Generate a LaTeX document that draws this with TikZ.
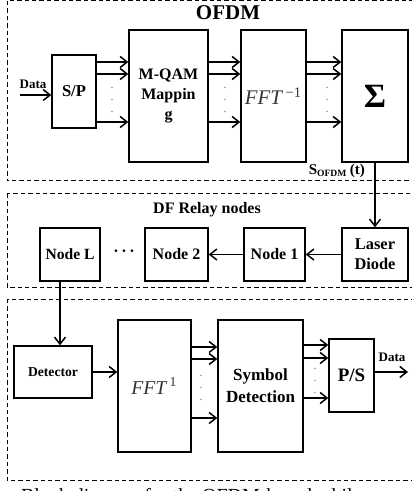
\documentclass[tikz,border=0pt]{standalone}
\usepackage{fontspec}
\setmainfont{Liberation Serif}
\usetikzlibrary{arrows.meta}
\newcommand{\fsz}[2]{\fontsize{#1}{#2}\selectfont}
\newcommand{\vdotsgap}{\vbox{\baselineskip=6pt\lineskiplimit=0pt\hbox{.}\hbox{.}\hbox{.}}}

\begin{document}
\begin{tikzpicture}[
    x=0.5pt, y=-0.5pt,
    every node/.style={font=\bfseries},
    blk/.style={draw, line width=0.7pt, inner sep=1pt, align=center},
    sig/.style={-{Straight Barb[length=3.5pt,width=5.5pt]}, line width=0.75pt},
    zone/.style={draw, dash pattern=on 2.2pt off 1.5pt, line width=0.5pt},
    dotcol/.style={inner sep=0pt, text=black!55, font=\fsz{6}{8}\mdseries}
]
\useasboundingbox (0,0) rectangle (411,491);

% dashed zones
\draw[zone] (7,1) rectangle (430,181);
\draw[zone] (7,194) rectangle (430,287);
\draw[zone] (7,299) rectangle (430,480);

% OFDM transmitter
\node[font=\fsz{10.5}{12}\bfseries] (ofdm) at (228,13) {OFDM};
\node[blk, minimum width=22pt, minimum height=36.5pt, font=\fsz{8.3}{10}\bfseries] (sp) at (74,91.5) {S/P};
\node[blk, minimum width=39.5pt, minimum height=66pt, font=\fsz{8}{10}\bfseries] (qam) at (168.5,96) {M-QAM\\Mappin\\g};
\node[blk, minimum width=32.5pt, minimum height=66pt, font=\fsz{10.4}{12}\mdseries, text=black!80] (ifft) at (273.5,96) {\textit{FFT}\textsuperscript{\,−1}};
\node[blk, minimum width=33pt, minimum height=66pt, font=\fsz{17}{20}\bfseries] (sum) at (375,96) {Σ};

\node[font=\fsz{6.5}{8}\bfseries] (datalbl) at (33,84) {Data};
\coordinate (datain) at (20,95);
\draw[sig] (datain) -- (sp.west |- datain);

\draw[sig] (sp.east |- 0,62) -- (qam.west |- 0,62);
\draw[sig] (sp.east |- 0,74) -- (qam.west |- 0,74);
\draw[sig] (sp.east |- 0,122) -- (qam.west |- 0,122);
\draw[sig] (qam.east |- 0,62) -- (ifft.west |- 0,62);
\draw[sig] (qam.east |- 0,74) -- (ifft.west |- 0,74);
\draw[sig] (qam.east |- 0,122) -- (ifft.west |- 0,122);
\draw[sig] (ifft.east |- 0,62) -- (sum.west |- 0,62);
\draw[sig] (ifft.east |- 0,74) -- (sum.west |- 0,74);
\draw[sig] (ifft.east |- 0,122) -- (sum.west |- 0,122);

\node[dotcol] (dots1) at (112,100) {\vdotsgap};
\node[dotcol] (dots2) at (225,100) {\vdotsgap};
\node[dotcol] (dots3) at (327,100) {\vdotsgap};

\node[anchor=east, font=\fsz{7.5}{8}\bfseries] (slbl) at (372,171) {S\textsubscript{\fsz{4.8}{5}OFDM}\,(t)};

% relay chain
\node[font=\fsz{8}{10}\bfseries] (relaylbl) at (207,210) {DF Relay nodes};
\node[blk, minimum width=33pt, minimum height=26.5pt, font=\fsz{8.2}{10}\bfseries] (laser) at (375,254.5) {Laser\\Diode};
\node[blk, minimum width=30.5pt, minimum height=26.5pt, font=\fsz{8}{10}\bfseries] (n1) at (274.5,254.5) {Node 1};
\node[blk, minimum width=31.5pt, minimum height=26.5pt, font=\fsz{8}{10}\bfseries] (n2) at (176.5,254.5) {Node 2};
\node[blk, minimum width=30pt, minimum height=26.5pt, font=\fsz{7.8}{10}\bfseries] (nL) at (70,254.5) {Node L};
\node[font=\fsz{8}{10}\bfseries] (ldots) at (124,253) {·\,·\,·};

\draw[sig] (sum) -- (laser);
\draw[sig] (laser) -- (n1);
\draw[sig] (n1) -- (n2);

% receiver
\node[blk, minimum width=39pt, minimum height=26pt, font=\fsz{6.8}{8}\bfseries] (det) at (53,372) {Detector};
\node[blk, minimum width=36.5pt, minimum height=66pt, font=\fsz{9.8}{12}\mdseries, text=black!80] (fft) at (154.5,386) {\textit{FFT}\textsuperscript{\,1}};
\node[blk, minimum width=42.5pt, minimum height=66pt, font=\fsz{8.5}{11}\bfseries] (sd) at (260.5,386) {Symbol\\Detection};
\node[blk, minimum width=22.5pt, minimum height=36.5pt, font=\fsz{9.5}{11}\bfseries] (ps) at (351.5,375.5) {P/S};

\draw[sig] (nL.south -| 60,0) -- (det.north -| 60,0);
\draw[sig] (det) -- (fft.west |- det);
\draw[sig] (fft.east |- 0,347) -- (sd.west |- 0,347);
\draw[sig] (fft.east |- 0,359) -- (sd.west |- 0,359);
\draw[sig] (fft.east |- 0,418) -- (sd.west |- 0,418);
\draw[sig] (sd.east |- 0,345) -- (ps.west |- 0,345);
\draw[sig] (sd.east |- 0,358) -- (ps.west |- 0,358);
\draw[sig] (sd.east |- 0,398) -- (ps.west |- 0,398);

\node[dotcol] (dots4) at (201,388) {\vdotsgap};
\node[dotcol] (dots5) at (315,381) {\vdotsgap};

\coordinate (dataout) at (408,372);
\draw[sig] (ps.east |- dataout) -- (dataout);
\node[font=\fsz{6.5}{8}\bfseries] (dataoutlbl) at (392,357) {Data};

\node[anchor=base west, font=\fsz{10}{12}\mdseries] (caption) at (14,502) {Block diagram for the OFDM-based while};
\end{tikzpicture}
\end{document}
